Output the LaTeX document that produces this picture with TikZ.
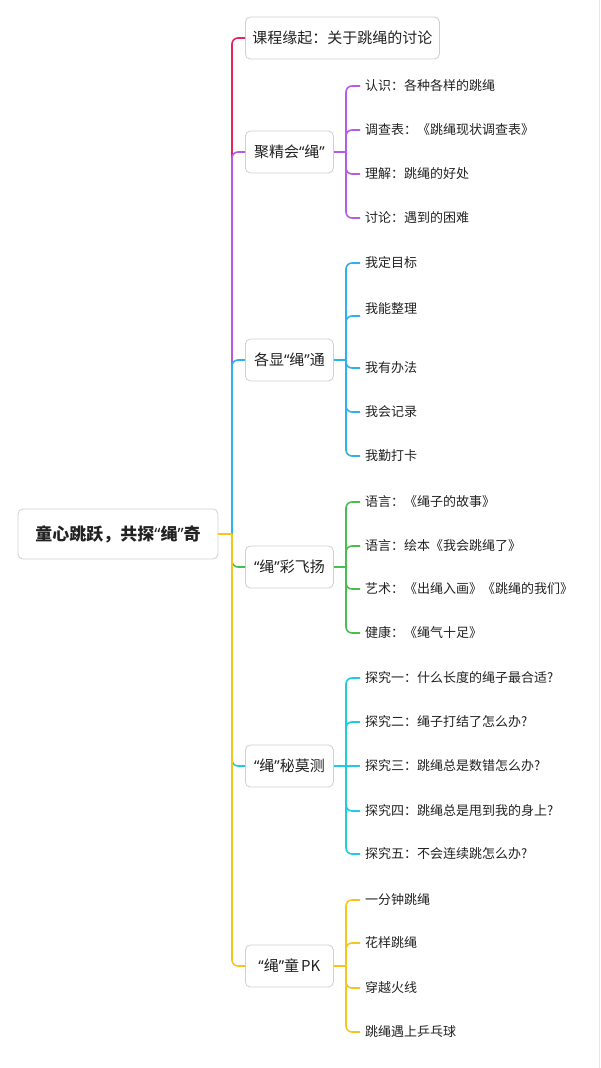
\documentclass[tikz,border=0pt]{standalone}
\usepackage{fontspec}
\setmainfont{Noto Sans CJK SC}
\newfontfamily\wfont{Noto Sans}
\newcommand{\inq}[1]{{\wfont “}#1{\wfont ”}}
\usetikzlibrary{calc,positioning}
\definecolor{cink}{HTML}{222222}
\definecolor{cbox}{HTML}{CFCFCF}
\definecolor{cedge}{HTML}{E6E6E6}
\definecolor{cred}{HTML}{E5245E}
\definecolor{cpur}{HTML}{B65AE8}
\definecolor{cblu}{HTML}{2CB2EC}
\definecolor{cgrn}{HTML}{48BE4F}
\definecolor{ccya}{HTML}{1ECCDD}
\definecolor{cyel}{HTML}{F4C51B}

\begin{document}
\begin{tikzpicture}[x=1pt, y=-1pt,
    root/.style={draw=cbox, line width=0.8pt, rounded corners=5pt, fill=white,
      minimum width=200pt, minimum height=50pt,
      font=\fontsize{17}{20}\selectfont\bfseries, text=cink},
    sub/.style={draw=cbox, line width=0.8pt, rounded corners=5pt, fill=white,
      anchor=west, minimum width=88pt, minimum height=42pt, inner xsep=7pt,
      font=\fontsize{15}{18}\selectfont, text=cink},
    leaf/.style={anchor=west, inner xsep=5pt, inner ysep=0pt,
      font=\fontsize{13}{16}\selectfont, text=cink},
    br/.style={line width=1.6pt, rounded corners=6pt}]
  \useasboundingbox (0,0) rectangle (600,1068);
  \draw[cedge, line width=1pt] (599.5,0) -- (599.5,1068);

  % centre and first level
  \node[root] (root) at (118,534) {童心跳跃，共探\inq{绳}奇};
  \node[sub] (k1) at (245,38) {课程缘起：关于跳绳的讨论};
  \node[sub] (k2) at (245,152) {聚精会\inq{绳}};
  \node[sub] (k3) at (245,360) {各显\inq{绳}通};
  \node[sub] (k4) at (245,567) {\inq{绳}彩飞扬};
  \node[sub] (k5) at (245,766) {\inq{绳}秘莫测};
  \node[sub] (k6) at (245,966) {\inq{绳}童\kern2pt PK};

  \coordinate (j) at (232,534);
  \draw[br, cred] (j) |- (k1.west);
  \draw[br, cpur] (j) |- (k2.west);
  \draw[br, cblu] (j) |- (k3.west);
  \draw[br, cgrn] (j) |- (k4.west);
  \draw[br, ccya] (j) |- (k5.west);
  \draw[br, cyel] (j) |- (k6.west);
  \draw[br, cyel] (root.east) -- (j);

  % second level
  \node[leaf] (a1) at (360,86) {认识：各种各样的跳绳};
  \node[leaf] (a2) at (360,130) {调查表：《跳绳现状调查表》};
  \node[leaf] (a3) at (360,174) {理解：跳绳的好处};
  \node[leaf] (a4) at (360,218) {讨论：遇到的困难};

  \node[leaf] (b1) at (360,263) {我定目标};
  \node[leaf, text height=11pt, text depth=17pt] (b2) at (360,316) {我能整理};
  \node[leaf] (b3) at (360,368) {我有办法};
  \node[leaf] (b4) at (360,412) {我会记录};
  \node[leaf] (b5) at (360,456) {我勤打卡};

  \node[leaf] (c1) at (360,502) {语言：《绳子的故事》};
  \node[leaf] (c2) at (360,546) {语言：绘本《我会跳绳了》};
  \node[leaf] (c3) at (360,589) {艺术：《出绳入画》《跳绳的我们》};
  \node[leaf] (c4) at (360,633) {健康：《绳气十足》};

  \node[leaf] (d1) at (360,678) {探究一：什么长度的绳子最合适?};
  \node[leaf] (d2) at (360,722) {探究二：绳子打结了怎么办?};
  \node[leaf] (d3) at (360,766) {探究三：跳绳总是数错怎么办?};
  \node[leaf] (d4) at (360,811) {探究四：跳绳总是甩到我的身上?};
  \node[leaf] (d5) at (360,854) {探究五：不会连续跳怎么办?};

  \node[leaf] (e1) at (360,900) {一分钟跳绳};
  \node[leaf] (e2) at (360,943) {花样跳绳};
  \node[leaf] (e3) at (360,988) {穿越火线};
  \node[leaf] (e4) at (360,1032) {跳绳遇上乒乓球};

  \coordinate (j2) at (346,152);
  \draw[br, cpur] (k2.east) -- (j2);
  \draw[br, cpur] (j2) |- (a1.west);
  \draw[br, cpur] (j2) |- (a2.west);
  \draw[br, cpur] (j2) |- (a3.west);
  \draw[br, cpur] (j2) |- (a4.west);

  \coordinate (j3) at (346,360);
  \draw[br, cblu] (k3.east) -- (j3);
  \draw[br, cblu] (j3) |- (b1.west);
  \draw[br, cblu] (j3) |- (b2.west);
  \draw[br, cblu] (j3) |- (b3.west);
  \draw[br, cblu] (j3) |- (b4.west);
  \draw[br, cblu] (j3) |- (b5.west);

  \coordinate (j4) at (346,567);
  \draw[br, cgrn] (k4.east) -- (j4);
  \draw[br, cgrn] (j4) |- (c1.west);
  \draw[br, cgrn] (j4) |- (c2.west);
  \draw[br, cgrn] (j4) |- (c3.west);
  \draw[br, cgrn] (j4) |- (c4.west);

  \coordinate (j5) at (346,766);
  \draw[br, ccya] (k5.east) -- (j5);
  \draw[br, ccya] (j5) |- (d1.west);
  \draw[br, ccya] (j5) |- (d2.west);
  \draw[br, ccya] (j5) -- (d3.west);
  \draw[br, ccya] (j5) |- (d4.west);
  \draw[br, ccya] (j5) |- (d5.west);

  \coordinate (j6) at (346,966);
  \draw[br, cyel] (k6.east) -- (j6);
  \draw[br, cyel] (j6) |- (e1.west);
  \draw[br, cyel] (j6) |- (e2.west);
  \draw[br, cyel] (j6) |- (e3.west);
  \draw[br, cyel] (j6) |- (e4.west);
\end{tikzpicture}
\end{document}
